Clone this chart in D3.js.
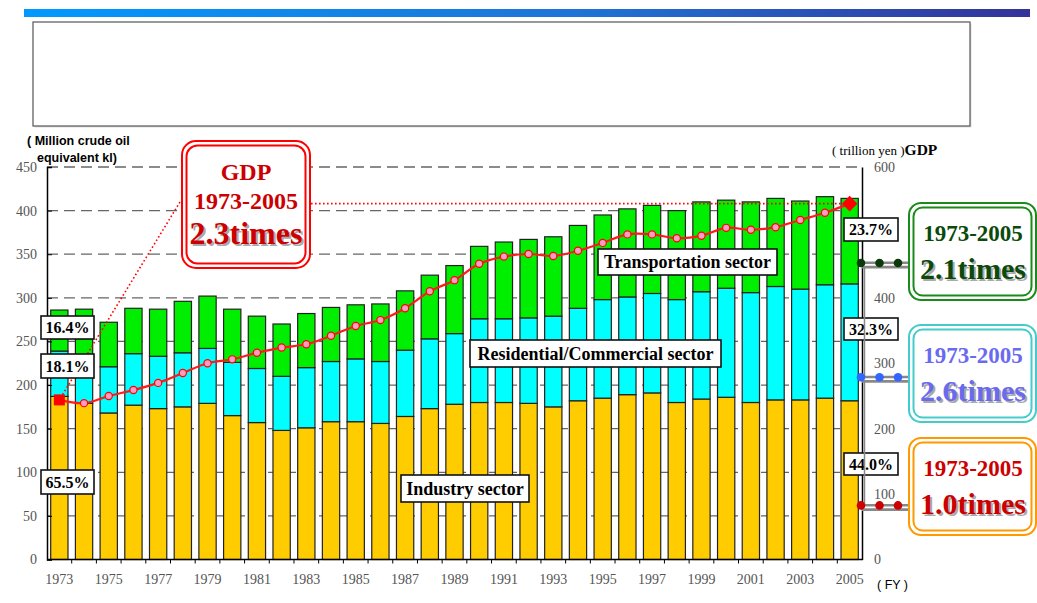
<!DOCTYPE html>
<html>
<head>
<meta charset="utf-8">
<script src="https://cdn.jsdelivr.net/npm/d3@7"></script>
<style>
  body { margin: 0; background: #fff; }
  svg { display: block; }
</style>
</head>
<body>
<svg id="chart" width="1037" height="603"></svg>
<script>
// data
const years = d3.range(1973, 2006)
const industry = [187, 179, 168, 177, 173, 175, 179, 165, 157, 148, 151, 158, 158, 156, 164, 173, 178, 180, 180, 179, 175, 182, 185, 189, 191, 180, 184, 186, 180, 183, 183, 185, 182]
const residential = [52, 53, 53, 59, 60, 62, 63, 61, 62, 62, 69, 69, 72, 71, 76, 80, 81, 96, 96, 98, 104, 106, 113, 112, 114, 118, 123, 125, 126, 130, 127, 130, 134]
const transport = [47, 55, 51, 52, 54, 59, 60, 61, 60, 60, 62, 62, 62, 66, 68, 73, 78, 83, 88, 90, 91, 95, 97, 101, 101, 102, 103, 101, 104, 101, 101, 101, 98]
const gdp = [244, 239, 250, 259, 270, 285, 300, 306, 316, 324, 329, 342, 357, 366, 384, 410, 427, 452, 463, 467, 464, 472, 484, 497, 497, 491, 495, 507, 504, 508, 519, 530, 544]
const leftTicks = [0, 50, 100, 150, 200, 250, 300, 350, 400, 450]
// 500 sits under the 23.7% box in the original, so it is not shown
const rightTicks = [0, 100, 200, 300, 400, 600]
const startShares = ['65.5%', '18.1%', '16.4%']
const endShares = ['44.0%', '32.3%', '23.7%']
const growth = [
  { label: '2.1times', level: 340, color: '#0b4a0b', border: '#1a8a1a', dot: '#0a3a0a' },
  { label: '2.6times', level: 209, color: '#6a6af0', border: '#44cccc', dot: '#3366ff' },
  { label: '1.0times', level: 62, color: '#cc0000', border: '#ff9900', dot: '#cc0000' },
]

const svg = d3.select('#chart')
const x0 = 47, x1 = 862, yTop = 167, yBot = 559.5

const x = d3.scaleBand().domain(years).range([x0, x1]).paddingInner(0.3).paddingOuter(0.15)
const y = d3.scaleLinear().domain([0, 450]).range([yBot, yTop])
const yR = d3.scaleLinear().domain([0, 600]).range([yBot, yTop])

// header stripe and empty title box
const grad = svg.append('defs').append('linearGradient').attr('id', 'hdr')
grad.append('stop').attr('offset', '0%').attr('stop-color', '#0099ff')
grad.append('stop').attr('offset', '55%').attr('stop-color', '#1f74d6')
grad.append('stop').attr('offset', '100%').attr('stop-color', '#343399')
svg.append('rect').attr('x', 24).attr('y', 9).attr('width', 1006).attr('height', 8).attr('fill', 'url(#hdr)')
svg.append('rect').attr('x', 34.5).attr('y', 23.5).attr('width', 937).attr('height', 104).attr('fill', '#ddd')
svg.append('rect').attr('x', 33).attr('y', 22).attr('width', 937).attr('height', 104)
  .attr('fill', '#fff').attr('stroke', '#555').attr('stroke-width', 1.2)

// gridlines
svg.append('g').selectAll('line').data(leftTicks.slice(1)).join('line')
  .attr('x1', x0).attr('x2', x1).attr('y1', (d) => y(d)).attr('y2', (d) => y(d))
  .attr('stroke', '#666').attr('stroke-width', 1.3).attr('stroke-dasharray', '11,6')

// stacked bars
const stackData = years.map((yr, i) => ({ year: yr, ind: industry[i], res: residential[i], tra: transport[i] }))
const series = d3.stack().keys(['ind', 'res', 'tra'])(stackData)
const fills = { ind: '#ffcc00', res: '#00ffff', tra: '#00ee00' }
svg.append('g').selectAll('g').data(series).join('g')
  .attr('fill', (s) => fills[s.key])
  .selectAll('rect').data((s) => s).join('rect')
  .attr('x', (d) => x(d.data.year))
  .attr('width', x.bandwidth())
  .attr('y', (d) => y(d[1]))
  .attr('height', (d) => y(d[0]) - y(d[1]))
  .attr('stroke', '#222').attr('stroke-width', 1.2)

// axes
const axL = svg.append('g').attr('transform', `translate(${x0},0)`)
  .call(d3.axisLeft(y).tickValues(leftTicks).tickSize(-5).tickPadding(10))
axL.select('.domain').attr('stroke', '#000').attr('stroke-width', 1.5)
axL.selectAll('text').attr('font-family', 'Liberation Serif').attr('font-size', 14).attr('fill', '#555')

const axR = svg.append('g').attr('transform', `translate(${x1},0)`)
  .call(d3.axisRight(yR).tickValues(rightTicks).tickSize(0).tickPadding(12))
axR.select('.domain').attr('stroke', '#000').attr('stroke-width', 1.5)
axR.selectAll('text').attr('font-family', 'Liberation Serif').attr('font-size', 14).attr('fill', '#555')

svg.append('line').attr('x1', x0).attr('x2', x1 + 1).attr('y1', yBot).attr('y2', yBot)
  .attr('stroke', '#000').attr('stroke-width', 1.5)
svg.append('g').selectAll('line').data(years.slice(1)).join('line')
  .attr('x1', (d) => x(d) - x.step() * 0.15).attr('x2', (d) => x(d) - x.step() * 0.15)
  .attr('y1', yBot).attr('y2', yBot + 4).attr('stroke', '#000')
svg.append('g').selectAll('text').data(years.filter((d) => d % 2 === 1)).join('text')
  .attr('x', (d) => x(d) + x.bandwidth() / 2).attr('y', 584)
  .attr('text-anchor', 'middle').attr('font-family', 'Liberation Serif').attr('font-size', 14)
  .attr('fill', '#555').text((d) => d)

// axis titles
const tl = svg.append('text').attr('font-family', 'Liberation Sans').attr('font-weight', 'bold').attr('font-size', 12.5)
tl.append('tspan').attr('x', 27).attr('y', 145).text('( Million crude oil')
tl.append('tspan').attr('x', 37).attr('y', 162).text('equivalent kl)')
const tr = svg.append('text').attr('x', 832).attr('y', 155).attr('font-family', 'Liberation Serif').attr('font-size', 13)
tr.append('tspan').text('( trillion yen )')
tr.append('tspan').attr('font-weight', 'bold').attr('font-size', 15.5).text('GDP')
svg.append('text').attr('x', 877).attr('y', 589).attr('font-family', 'Liberation Sans').attr('font-size', 12.5).text('( FY )')

// GDP line
const cx = (i) => x(years[i]) + x.bandwidth() / 2
const n = years.length
svg.append('line').attr('x1', 180).attr('y1', 202).attr('x2', cx(0)).attr('y2', yR(gdp[0]))
  .attr('stroke', '#ff0000').attr('stroke-width', 1.6).attr('stroke-dasharray', '1.6,2.4')
svg.append('line').attr('x1', 311).attr('y1', yR(gdp[n - 1])).attr('x2', cx(n - 1)).attr('y2', yR(gdp[n - 1]))
  .attr('stroke', '#ff0000').attr('stroke-width', 1.6).attr('stroke-dasharray', '1.6,2.4')

const line = d3.line().x((d, i) => cx(i)).y((d) => yR(d)).curve(d3.curveCatmullRom.alpha(0.5))
svg.append('path').datum(gdp).attr('d', line).attr('fill', 'none').attr('stroke', '#ff1a1a').attr('stroke-width', 2.2)
svg.append('g').selectAll('circle').data(gdp.slice(1, n - 1)).join('circle')
  .attr('cx', (d, i) => cx(i + 1)).attr('cy', (d) => yR(d)).attr('r', 3.6)
  .attr('fill', '#ff9cc4').attr('stroke', '#ff0000').attr('stroke-width', 1.2)
svg.append('rect').attr('x', cx(0) - 5.5).attr('y', yR(gdp[0]) - 5.5).attr('width', 11).attr('height', 11).attr('fill', '#ff0000')
svg.append('rect').attr('x', -5.5).attr('y', -5.5).attr('width', 11).attr('height', 11).attr('fill', '#ff0000')
  .attr('transform', `translate(${cx(n - 1)},${yR(gdp[n - 1])}) rotate(45)`)

// boxed labels
const box = (bx, by, w, h, txt, size) => {
  svg.append('rect').attr('x', bx).attr('y', by).attr('width', w).attr('height', h)
    .attr('fill', '#fff').attr('stroke', '#111').attr('stroke-width', 1.6)
  svg.append('text').attr('x', bx + w / 2).attr('y', by + h / 2).attr('dy', '0.35em')
    .attr('text-anchor', 'middle').attr('font-family', 'Liberation Serif').attr('font-weight', 'bold')
    .attr('font-size', size).text(txt)
}
box(41, 470, 53, 24, startShares[0], 16)
box(41, 354, 53, 24, startShares[1], 16)
box(41, 316, 53, 23, startShares[2], 16)
box(844, 453, 54, 22, endShares[0], 16)
box(844, 318, 54, 22, endShares[1], 16)
box(844, 218, 54, 23, endShares[2], 16)
box(598, 249, 179, 26, 'Transportation sector', 18)
box(470, 340, 251, 27, 'Residential/Commercial sector', 18)
box(401, 475, 128, 27, 'Industry sector', 18)

// double rounded frames with shadowed text
const frame = (bx, by, w, h, stroke, r) => {
  svg.append('rect').attr('x', bx).attr('y', by).attr('width', w).attr('height', h).attr('rx', r)
    .attr('fill', '#fff').attr('stroke', stroke).attr('stroke-width', 2)
  svg.append('rect').attr('x', bx + 4.5).attr('y', by + 4.5).attr('width', w - 9).attr('height', h - 9).attr('rx', r - 3)
    .attr('fill', 'none').attr('stroke', stroke).attr('stroke-width', 2)
}
const shadowText = (tx, ty, txt, size, color) => {
  svg.append('text').attr('x', tx + 2).attr('y', ty + 2).attr('text-anchor', 'middle')
    .attr('font-family', 'Liberation Serif').attr('font-weight', 'bold').attr('font-size', size)
    .attr('fill', '#aaa').text(txt)
  svg.append('text').attr('x', tx).attr('y', ty).attr('text-anchor', 'middle')
    .attr('font-family', 'Liberation Serif').attr('font-weight', 'bold').attr('font-size', size)
    .attr('fill', color).text(txt)
}

frame(182, 141, 128, 127, '#ff0000', 14)
svg.append('text').attr('x', 246).attr('y', 180).attr('text-anchor', 'middle')
  .attr('font-family', 'Liberation Serif').attr('font-weight', 'bold').attr('font-size', 24).attr('fill', '#cc0000').text('GDP')
svg.append('text').attr('x', 246).attr('y', 209).attr('text-anchor', 'middle')
  .attr('font-family', 'Liberation Serif').attr('font-weight', 'bold').attr('font-size', 24).attr('fill', '#cc0000').text('1973-2005')
shadowText(246, 244, '2.3times', 32, '#cc0000')

// connectors and growth boxes on the right
svg.append('line').attr('x1', x1 + 2.5).attr('x2', x1 + 2.5).attr('y1', y(growth[0].level)).attr('y2', y(growth[2].level) + 3)
  .attr('stroke', '#888').attr('stroke-width', 1.5)
growth.forEach((g, k) => {
  const gy = y(g.level)
  svg.append('line').attr('x1', x1).attr('x2', 910).attr('y1', gy + 2).attr('y2', gy + 2)
    .attr('stroke', '#888').attr('stroke-width', 7)
  svg.append('line').attr('x1', x1).attr('x2', 910).attr('y1', gy + 2).attr('y2', gy + 2)
    .attr('stroke', '#fff').attr('stroke-width', 1.8)
  svg.append('g').selectAll('circle').data([0, 1, 2]).join('circle')
    .attr('cx', (d) => x1 - 1 + d * 18.5).attr('cy', gy).attr('r', 4.3).attr('fill', g.dot)
  const by = [203, 325, 438][k]
  frame(909, by, 127, 97, g.border, 12)
  svg.append('text').attr('x', 973).attr('y', by + 38).attr('text-anchor', 'middle')
    .attr('font-family', 'Liberation Serif').attr('font-weight', 'bold').attr('font-size', 23)
    .attr('fill', g.color).text('1973-2005')
  shadowText(973, by + 76, g.label, 30, g.color)
})
</script>
</body>
</html>
